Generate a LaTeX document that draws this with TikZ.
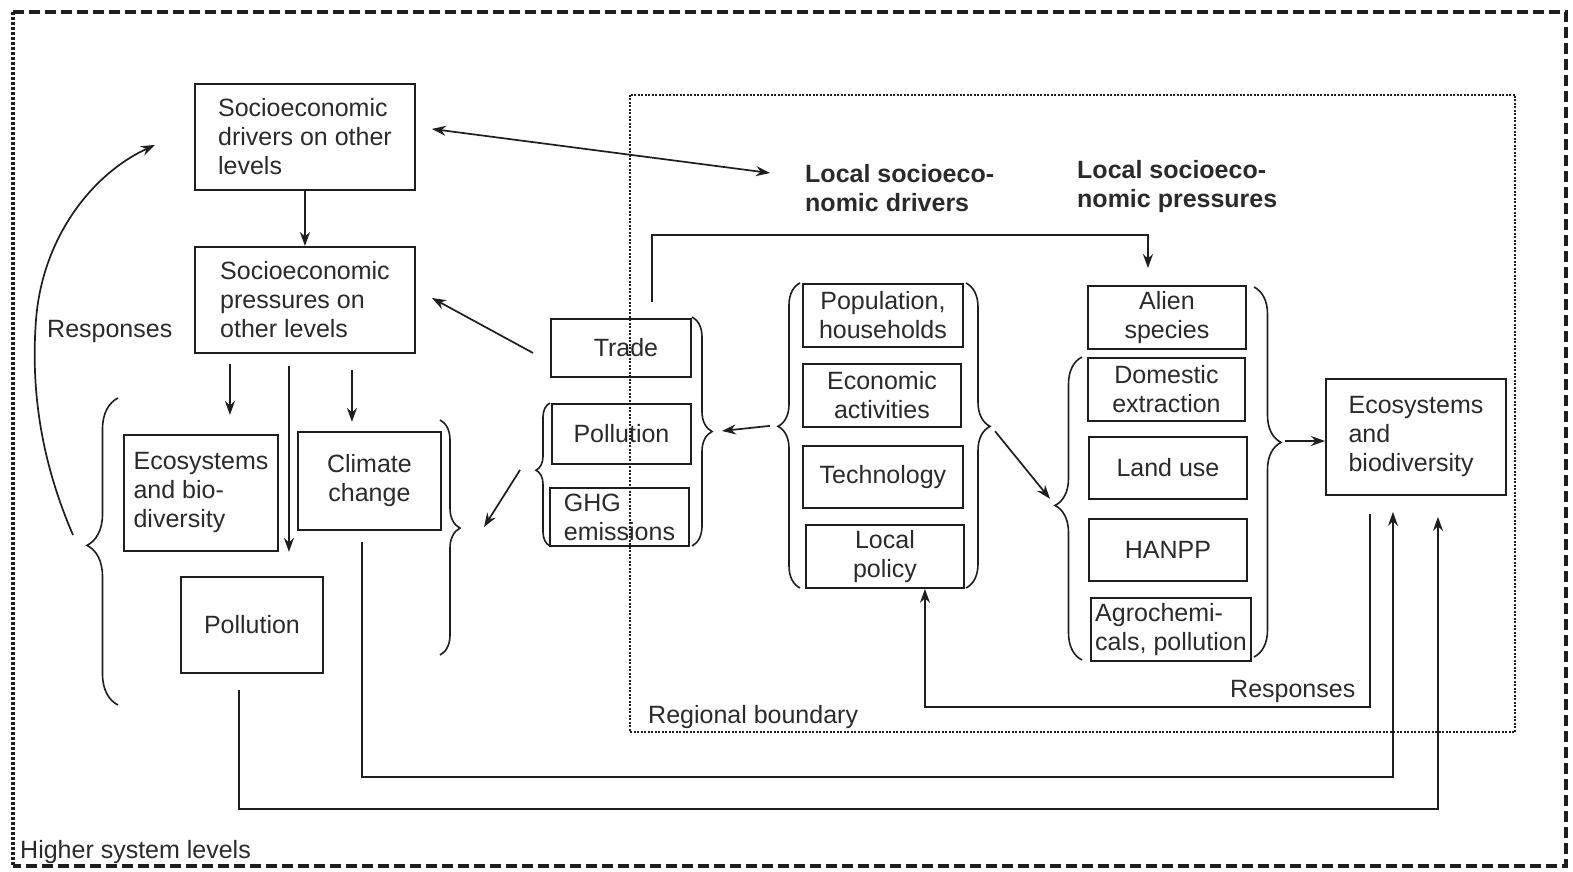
\documentclass[tikz,border=0pt]{standalone}
\usepackage{fontspec}
\setmainfont{Liberation Sans}
\usetikzlibrary{arrows.meta,decorations.pathreplacing,calc}
\definecolor{ink}{HTML}{1E1E1E}
\definecolor{txt}{HTML}{2A2A2A}
\begin{document}
\begin{tikzpicture}[x=1pt,y=-1pt,
  every node/.style={font=\fontsize{25}{29}\selectfont, text=txt},
  box/.style={draw=ink, line width=1.9pt, inner sep=0pt, anchor=north west, align=center},
  lbox/.style={box, align=left},
  arr/.style={draw=ink, line width=1.7pt, -{Stealth[length=14pt,width=10pt]}},
  arrtwo/.style={draw=ink, line width=1.7pt, {Stealth[length=14pt,width=10pt]}-{Stealth[length=14pt,width=10pt]}},
  br/.style={draw=ink, line width=1.6pt, decorate, decoration={brace, amplitude=#1}},
  lab/.style={inner sep=0pt, anchor=west, align=left},
  boldlab/.style={lab, font=\fontsize{25}{29}\selectfont\bfseries}
]
\useasboundingbox (0,0) rectangle (1573,872);

% frames
\draw[draw=ink, line width=3.5pt, dash pattern=on 11pt off 5pt] (13,12) -- (1566,12) -- (1566,866) -- (13,866);
\draw[draw=ink, line width=4pt, dash pattern=on 3pt off 2pt] (13,12) -- (13,866);
\draw[draw=ink, line width=2pt, dash pattern=on 2pt off 1.5pt] (630,95) rectangle (1515,732);

% boxes
\node[lbox, minimum width=220pt, minimum height=106pt] (drv) at (194,83) {Socioeconomic\\drivers on other\\levels};
\node[lbox, minimum width=220pt, minimum height=106pt] (prs) at (194,246) {Socioeconomic\\pressures on\\other levels};
\node[lbox, minimum width=154pt, minimum height=116pt] (ecoL) at (123,434) {Ecosystems\\and bio-\\diversity};
\node[box, minimum width=143pt, minimum height=98pt] (clim) at (297,431) {Climate\\change};
\node[box, minimum width=142pt, minimum height=96pt] (polL) at (180,576) {Pollution};
\node[box, minimum width=140pt, minimum height=58pt] (trade) at (550,318) {\hspace{10pt}Trade};
\node[box, minimum width=139pt, minimum height=60pt] (polM) at (551,403) {Pollution};
\node[lbox, minimum width=139pt, minimum height=58pt] (ghg) at (549,487) {GHG\\emissions};
\node[box, minimum width=160pt, minimum height=63pt] (pop) at (802,283) {Population,\\households};
\node[box, minimum width=158pt, minimum height=63pt] (econ) at (802,363) {Economic\\activities};
\node[box, minimum width=160pt, minimum height=62pt] (tech) at (802,445) {Technology};
\node[box, minimum width=158pt, minimum height=63pt] (pol) at (805,524) {Local\\policy};
\node[box, minimum width=158pt, minimum height=63pt] (alien) at (1087,285) {Alien\\species};
\node[box, minimum width=157pt, minimum height=63pt] (dom) at (1087,357) {Domestic\\extraction};
\node[box, minimum width=158pt, minimum height=62pt] (land) at (1088,436) {Land use};
\node[box, minimum width=158pt, minimum height=62pt] (hanpp) at (1088,518) {HANPP};
\node[lbox, minimum width=160pt, minimum height=63pt] (agro) at (1090,597) {Agrochemi-\\cals, pollution};
\node[lbox, minimum width=180pt, minimum height=116pt] (ecoR) at (1325,378) {Ecosystems\\and\\biodiversity};

% labels
\node[lab] (resp1) at (47,331) {Responses};
\node[lab] (resp2) at (1230,691) {Responses};
\node[lab] (reg) at (648,717) {Regional boundary};
\node[lab] (higher) at (20,852) {Higher system levels};
\node[boldlab] (ldrv) at (805,188) {Local socioeco-\\nomic drivers};
\node[boldlab] (lprs) at (1077,187) {Local socioeco-\\nomic pressures};

% braces
\draw[br=31pt, decoration={aspect=0.52}] (118,705) -- (118,398);
\coordinate (b1) at (87,545);
\draw[br=20pt, decoration={aspect=0.46}] (440,420) -- (440,655);
\coordinate (b2) at (460,528);
\draw[br=20pt] (692,317) -- (692,546);
\coordinate (b3) at (712,432);
\draw[br=14pt, decoration={aspect=0.53}] (550,546) -- (550,403);
\coordinate (b4) at (536,470);
\draw[br=22pt, decoration={aspect=0.53}] (800,588) -- (800,283);
\coordinate (b5) at (778,425);
\draw[br=24pt, decoration={aspect=0.47}] (966,283) -- (966,588);
\coordinate (b6) at (990,425);
\draw[br=27pt, decoration={aspect=0.51}] (1082,660) -- (1082,357);
\coordinate (b7) at (1055,505);
\draw[br=27pt, decoration={aspect=0.42}] (1254,287) -- (1254,657);
\coordinate (b8) at (1281,441);

% connectors
\draw[arr, shorten <=8pt, shorten >=10pt] (b5) -- (b3);
\draw[arr, shorten <=8pt, shorten >=8pt] (b6) -- (b7);
\draw[arr, shorten <=4pt] (b8) -- (b8 -| ecoR.west);
\draw[arr] ($(b4)+(-16,0)$) -- ($(b2)+(24,-1)$);
\draw[arr] ($(trade.west)+(-17,5)$) -- ($(prs.east)+(16,-2)$);
\draw[arrtwo] ($(drv.east)+(16,-8)$) -- ($(ldrv.west)+(-35,-15)$);
\draw[arr] ($(trade.north)+(31,-16)$) -- ++(0,-67) -| ($(alien.north)+(-19,-17)$);
\draw[arr] (drv.south) -- (prs.north);
\draw[arr] ($(prs.south)+(-75,10)$) -- ++(0,51);
\draw[arr] ($(prs.south)+(-16,12)$) -- ++(0,186);
\draw[arr] ($(prs.south)+(47,16)$) -- ++(0,52);
\draw[arr] ($(clim.south)+(-7.5,11)$) -- ++(0,235) -| ($(ecoR.south)+(-23,16)$);
\draw[arr] ($(polL.south)+(-13,16)$) -- ++(0,119) -| ($(ecoR.south)+(22,21)$);
\draw[arr] ($(ecoR.south)+(-46,18)$) -- ++(0,193) -| ($(pol.south)+(40,0)$);
\draw[arr] ($(b1)+(-14,-10)$) .. controls (45,470) and (30,400) .. (36,320)
  .. controls (42,240) and (90,175) .. ($(drv.west)+(-39,8)$);
\end{tikzpicture}
\end{document}
